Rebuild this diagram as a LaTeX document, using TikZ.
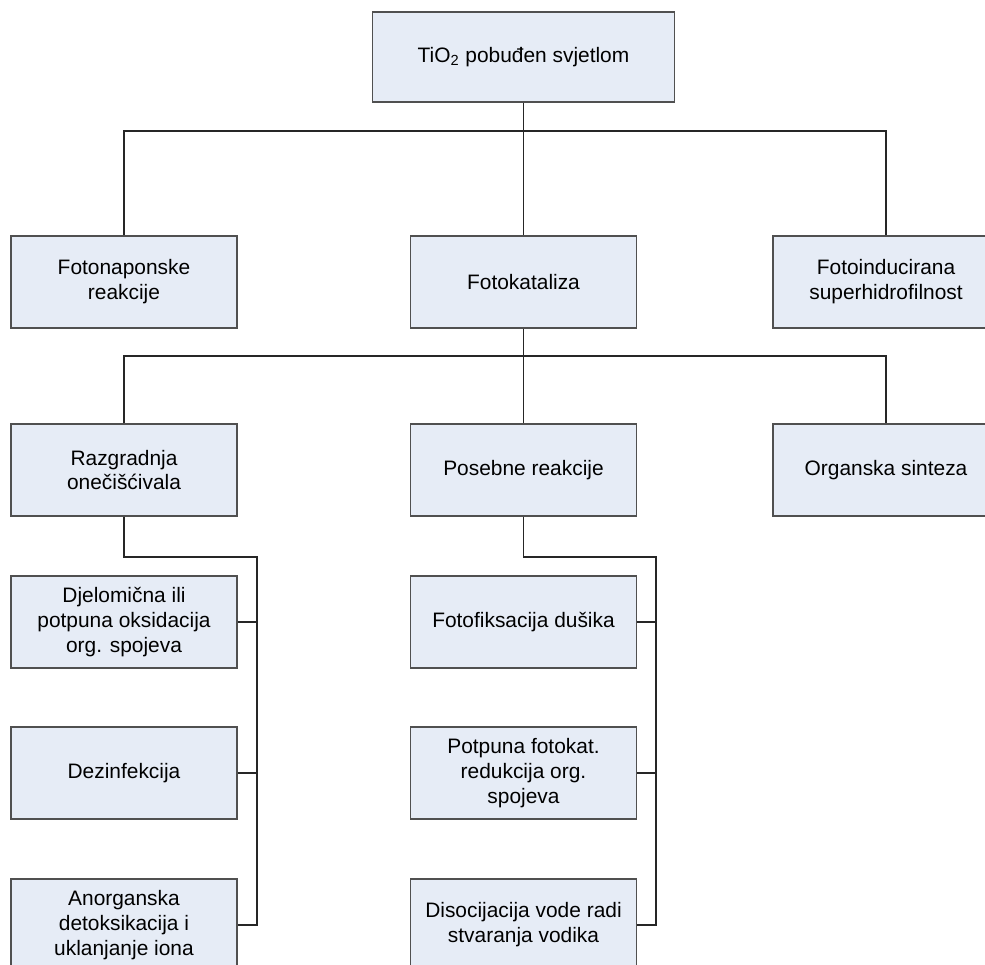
\documentclass[tikz,border=0pt]{standalone}
\usepackage{fontspec}
\setmainfont{Liberation Sans}
\usetikzlibrary{positioning}
\definecolor{boxfill}{RGB}{230,236,246}
\definecolor{boxline}{RGB}{80,80,80}

\begin{document}
\begin{tikzpicture}[
    x=1cm, y=-1cm,
    box/.style={
        rectangle, draw=boxline, fill=boxfill, line width=0.6pt,
        minimum width=4.52cm, minimum height=1.84cm,
        align=center, inner sep=2pt,
        font=\fontsize{11.9}{14.2}\selectfont
    },
    topbox/.style={box, minimum width=6.04cm, minimum height=1.8cm},
    link/.style={draw=black!85, line width=0.6pt}
]

% Okvir slike
\useasboundingbox (0,0) rectangle (19.7,19.28);
\clip (0,0) rectangle (19.7,19.28);

% Vrh
\node[topbox] (top) at (10.47,1.14) {TiO\textsubscript{2} pobuđen svjetlom};

% Druga razina
\node[box] (fnap) at (2.48,5.64) {Fotonaponske\\reakcije};
\node[box] (fkat) at (10.47,5.64) {Fotokataliza};
\node[box] (find) at (17.72,5.64) {Fotoinducirana\\superhidrofilnost};

% Treca razina
\node[box] (razg) at (2.48,9.40) {Razgradnja\\onečišćivala};
\node[box] (pos) at (10.47,9.40) {Posebne reakcije};
\node[box] (org) at (17.72,9.40) {Organska sinteza};

% Razgradnja - podgrupe
\node[box] (djel) at (2.48,12.44) {Djelomična ili\\potpuna oksidacija\\org. spojeva};
\node[box] (dez) at (2.48,15.46) {Dezinfekcija};
\node[box] (anorg) at (2.48,18.50) {Anorganska\\detoksikacija i\\uklanjanje iona};

% Posebne reakcije - podgrupe
\node[box] (ffix) at (10.47,12.44) {Fotofiksacija dušika};
\node[box] (ppun) at (10.47,15.46) {Potpuna fotokat.\\redukcija org.\\spojeva};
\node[box] (dis) at (10.47,18.50) {Disocijacija vode radi\\stvaranja vodika};

% Sabirnice
\coordinate (bus1) at (10.47,2.62);
\coordinate (bus2) at (10.47,7.12);
\coordinate (rzbus) at (5.14,11.14);
\coordinate (psbus) at (13.12,11.14);

% Veze prva razina
\draw[link] (top) -- (fkat);
\draw[link] (fnap.north) -- (fnap.north |- bus1) -- (find.north |- bus1) -- (find.north);

% Veze druga razina
\draw[link] (fkat) -- (pos);
\draw[link] (razg.north) -- (razg.north |- bus2) -- (org.north |- bus2) -- (org.north);

% Veze razgradnja
\draw[link] (razg.south) |- (rzbus) -- (rzbus |- anorg.east) -- (anorg.east);
\draw[link] (djel.east) -- (djel.east -| rzbus);
\draw[link] (dez.east) -- (dez.east -| rzbus);

% Veze posebne reakcije
\draw[link] (pos.south) |- (psbus) -- (psbus |- dis.east) -- (dis.east);
\draw[link] (ffix.east) -- (ffix.east -| psbus);
\draw[link] (ppun.east) -- (ppun.east -| psbus);

\end{tikzpicture}
\end{document}
